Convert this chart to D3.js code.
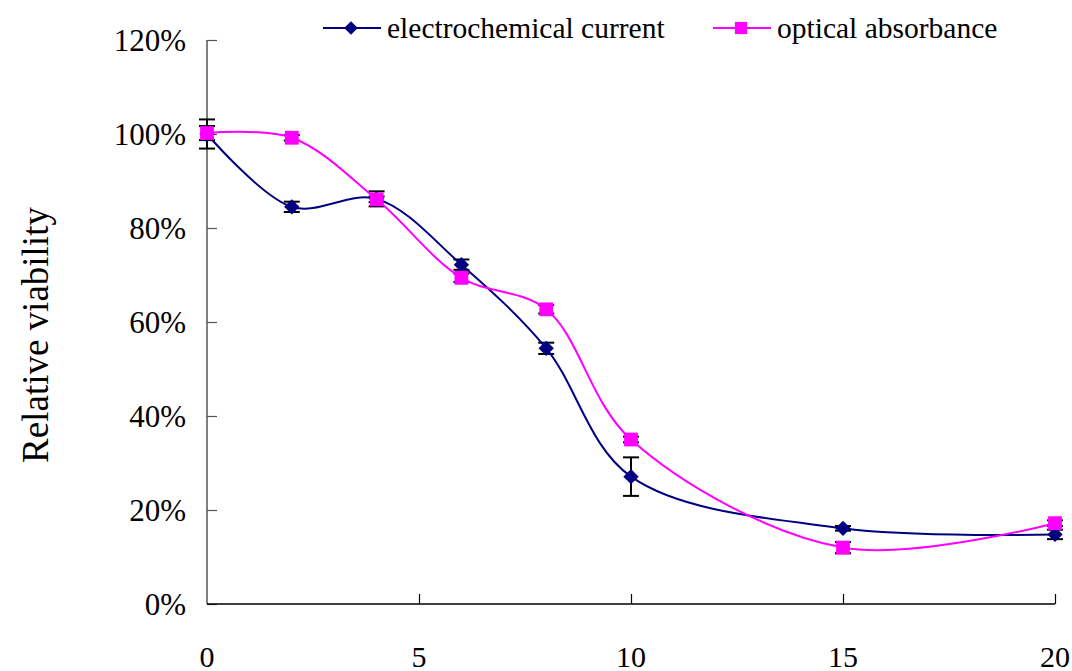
<!DOCTYPE html>
<html>
<head>
<meta charset="utf-8">
<script src="https://cdn.jsdelivr.net/npm/d3@7"></script>
<style>
  body { margin: 0; background: #fff; }
  text { font-family: "Liberation Serif", "Times New Roman", serif; }
</style>
</head>
<body>
<div id="chart"></div>
<script>
// data
const xValues = [0, 2, 4, 6, 8, 10, 15, 20];
const electroValues = [100, 84.5, 86.2, 72.2, 54.4, 27.1, 16.1, 14.8];
const electroErrors = [3.1, 1.1, 1.6, 1.1, 1.2, 4.1, 0.5, 1.0];
const opticalValues = [100.2, 99.2, 86.1, 69.4, 62.7, 35.0, 12.0, 17.2];
const opticalErrors = [1.5, 0.6, 0.6, 0.9, 0.9, 0.6, 1.2, 0.6];
const xTicks = [0, 5, 10, 15, 20];
const yTicks = [0, 20, 40, 60, 80, 100, 120];
const seriesNames = ["electrochemical current", "optical absorbance"];

const WIDTH = 1072, HEIGHT = 671;
const PLOT = {LEFT: 207, RIGHT: 1055, TOP: 40, BOTTOM: 604};
const NAVY = "#000080", MAGENTA = "#ff00ff";

const svg = d3.select("#chart").append("svg")
    .attr("width", WIDTH)
    .attr("height", HEIGHT);

const x = d3.scaleLinear().domain([0, 20]).range([PLOT.LEFT, PLOT.RIGHT]);
const y = d3.scaleLinear().domain([0, 120]).range([PLOT.BOTTOM, PLOT.TOP]);

// y axis: grey line, ticks pointing into the plot
const yAxis = d3.axisRight(y).tickValues(yTicks).tickSize(10).tickFormat("");
const yG = svg.append("g").attr("transform", `translate(${PLOT.LEFT},0)`).call(yAxis);
yG.select(".domain").attr("stroke", "#808080").attr("stroke-width", 2).attr("d", `M0,${PLOT.TOP}V${PLOT.BOTTOM}`);
yG.selectAll(".tick line").attr("stroke", "#555").attr("stroke-width", 1.2);

svg.append("g").selectAll("text").data(yTicks).join("text")
    .attr("x", 186)
    .attr("y", d => y(d))
    .attr("dy", "0.35em")
    .attr("text-anchor", "end")
    .style("font-size", "31px")
    .text(d => d + "%");

// x axis: black line, ticks pointing up
const xAxis = d3.axisTop(x).tickValues(xTicks.slice(1)).tickSize(10).tickFormat("");
const xG = svg.append("g").attr("transform", `translate(0,${PLOT.BOTTOM})`).call(xAxis);
xG.select(".domain").attr("stroke", "#000").attr("stroke-width", 1.5).attr("d", `M${PLOT.LEFT},0H${PLOT.RIGHT}`);
xG.selectAll(".tick line").attr("stroke", "#000").attr("stroke-width", 1.2);

svg.append("g").selectAll("text").data(xTicks).join("text")
    .attr("x", d => x(d))
    .attr("y", 656)
    .attr("dy", "0.35em")
    .attr("text-anchor", "middle")
    .style("font-size", "30px")
    .text(d => d);

svg.append("text")
    .attr("transform", `translate(48,${(PLOT.TOP + PLOT.BOTTOM) / 2 + 13}) rotate(-90)`)
    .attr("text-anchor", "middle")
    .style("font-size", "37px")
    .text("Relative viability");

const electro = xValues.map((d, i) => ({x: d, v: electroValues[i], e: electroErrors[i]}));
const optical = xValues.map((d, i) => ({x: d, v: opticalValues[i], e: opticalErrors[i]}));

function drawErrors(data) {
    const g = svg.append("g").attr("stroke", "#000").attr("stroke-width", 2);
    g.selectAll("line.v").data(data).join("line").attr("class", "v")
        .attr("x1", d => x(d.x)).attr("x2", d => x(d.x))
        .attr("y1", d => y(d.v - d.e)).attr("y2", d => y(d.v + d.e));
    g.selectAll("line.lo").data(data).join("line").attr("class", "lo")
        .attr("x1", d => x(d.x) - 8).attr("x2", d => x(d.x) + 8)
        .attr("y1", d => y(d.v - d.e)).attr("y2", d => y(d.v - d.e));
    g.selectAll("line.hi").data(data).join("line").attr("class", "hi")
        .attr("x1", d => x(d.x) - 8).attr("x2", d => x(d.x) + 8)
        .attr("y1", d => y(d.v + d.e)).attr("y2", d => y(d.v + d.e));
}
drawErrors(electro);
drawErrors(optical);

const line = d3.line().x(d => x(d.x)).y(d => y(d.v)).curve(d3.curveCatmullRom.alpha(0.5));

svg.append("path").datum(electro)
    .attr("d", line).attr("fill", "none").attr("stroke", NAVY).attr("stroke-width", 2);
svg.append("path").datum(optical)
    .attr("d", line).attr("fill", "none").attr("stroke", MAGENTA).attr("stroke-width", 2);

const diamond = d3.symbol().type(d3.symbolDiamond2).size(150);
const square = d3.symbol().type(d3.symbolSquare).size(190);

svg.append("g").selectAll("path").data(electro).join("path")
    .attr("transform", d => `translate(${x(d.x)},${y(d.v)})`)
    .attr("d", diamond).attr("fill", NAVY);
svg.append("g").selectAll("path").data(optical).join("path")
    .attr("transform", d => `translate(${x(d.x)},${y(d.v)})`)
    .attr("d", square).attr("fill", MAGENTA);

// legend
const legend = [
    {name: seriesNames[0], color: NAVY, sym: d3.symbol().type(d3.symbolDiamond2).size(120), x0: 323},
    {name: seriesNames[1], color: MAGENTA, sym: d3.symbol().type(d3.symbolSquare).size(150), x0: 713}
];
const lg = svg.append("g").selectAll("g").data(legend).join("g")
    .attr("transform", d => `translate(${d.x0},28)`);
lg.append("line").attr("x1", 0).attr("x2", 58).attr("stroke", d => d.color).attr("stroke-width", 2);
lg.append("path").attr("transform", "translate(28,0)").attr("d", d => d.sym()).attr("fill", d => d.color);
lg.append("text").attr("x", 64).attr("dy", "0.35em").style("font-size", "29.5px").text(d => d.name);
</script>
</body>
</html>
